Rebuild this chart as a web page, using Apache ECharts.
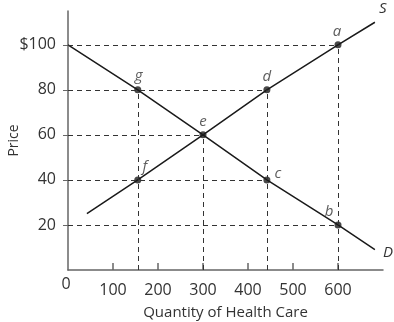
<!DOCTYPE html>
<html>
<head>
<meta charset="utf-8">
<script src="https://cdn.jsdelivr.net/npm/echarts@6/dist/echarts.min.js"></script>
<style>
  html, body { margin: 0; padding: 0; background: #fff; }
  #chart { width: 394px; height: 322px; }
</style>
</head>
<body>
<div id="chart"></div>
<script>
// Supply and demand for health care
const supplyCurve = [[42, 25], [155, 40], [300, 60], [442, 80], [600, 100], [682, 110]];
const demandCurve = [[0, 100], [155, 80], [300, 60], [442, 40], [600, 20], [682, 9]];

const pointNames = ['a', 'b', 'c', 'd', 'e', 'f', 'g'];
const pointQty   = [600, 600, 442, 442, 300, 155, 155];
const pointPrice = [100, 20, 40, 80, 60, 40, 80];

const xTicks = [100, 200, 300, 400, 500, 600];
const yTicks = [20, 40, 60, 80, 100];

const textColor = '#333';
const font = '"Open Sans", "DejaVu Sans", sans-serif';

// label placement for each lettered point
const labelPlace = {
  a: { position: 'top', offset: [-1, 0] },
  b: { position: 'top', offset: [-9, 0] },
  c: { position: 'right', offset: [2, -6] },
  d: { position: 'top', offset: [0, 0] },
  e: { position: 'top', offset: [0, 0] },
  f: { position: 'top', offset: [7, 0] },
  g: { position: 'top', offset: [1, -1] }
};

const points = pointNames.map((n, i) => ({
  name: n,
  value: [pointQty[i], pointPrice[i]],
  label: Object.assign({ show: true, formatter: n }, labelPlace[n])
}));

// dashed guides from each point to both axes
const guides = [];
pointNames.forEach((n, i) => {
  guides.push([{ coord: [0, pointPrice[i]] }, { coord: [pointQty[i], pointPrice[i]] }]);
  guides.push([{ coord: [pointQty[i], 0] }, { coord: [pointQty[i], pointPrice[i]] }]);
});

const chart = echarts.init(document.getElementById('chart'));
chart.setOption({
  animation: false,
  grid: { left: 68, right: 11, top: 11, bottom: 52, outerBoundsMode: 'none', containLabel: false },
  xAxis: {
    type: 'value', min: 0, max: 700, interval: 100,
    name: 'Quantity of Health Care', nameLocation: 'middle', nameGap: 35, nameMoveOverlap: false,
    nameTextStyle: { color: textColor, fontSize: 15, fontFamily: font },
    splitLine: { show: false },
    axisLine: { lineStyle: { color: '#666', width: 1.5 } },
    axisTick: { show: true, inside: true, length: 7, customValues: xTicks, lineStyle: { color: '#666', width: 1.5 } },
    axisLabel: { customValues: xTicks, color: textColor, fontSize: 16, fontFamily: font, margin: 12 }
  },
  yAxis: {
    type: 'value', min: 0, max: 115, interval: 20,
    name: 'Price', nameLocation: 'middle', nameGap: 47, nameRotate: 90, nameMoveOverlap: false,
    nameTextStyle: { color: textColor, fontSize: 14, fontFamily: font },
    splitLine: { show: false },
    axisLine: { show: true, lineStyle: { color: '#666', width: 1.5 } },
    axisTick: { show: true, length: 5, customValues: yTicks, lineStyle: { color: '#666', width: 1 } },
    axisLabel: {
      customValues: yTicks, color: textColor, fontSize: 16, fontFamily: font, margin: 12,
      formatter: v => (v === 100 ? '$' + v : String(v))
    }
  },
  graphic: [],
  series: [
    {
      type: 'line', data: supplyCurve, symbol: 'none', z: 3,
      lineStyle: { color: '#1a1a1a', width: 1.5 },
      endLabel: { show: true, formatter: 'S', fontStyle: 'italic', fontSize: 15, color: textColor, fontFamily: font, offset: [-4, -14] }
    },
    {
      type: 'line', data: demandCurve, symbol: 'none', z: 3,
      lineStyle: { color: '#1a1a1a', width: 1.5 },
      endLabel: { show: true, formatter: 'D', fontStyle: 'italic', fontSize: 15, color: textColor, fontFamily: font, offset: [0, 3] }
    },
    {
      type: 'scatter', data: points, symbolSize: 7, z: 4,
      itemStyle: { color: '#1a1a1a' },
      label: { fontStyle: 'italic', fontSize: 15, color: textColor, fontFamily: font, distance: 2 },
      markLine: {
        silent: true, symbol: 'none', animation: false,
        label: { show: false },
        lineStyle: { color: '#333', width: 1, type: [5, 4] },
        data: guides
      }
    }
  ]
});

// origin label sits a little above the quantity labels
const origin = chart.convertToPixel({ gridIndex: 0 }, [0, 0]);
chart.setOption({
  graphic: [{
    type: 'text', x: origin[0] - 2, y: origin[1] + 14,
    style: { text: '0', fill: textColor, fontSize: 16, fontFamily: font, align: 'center', verticalAlign: 'middle' }
  }]
});
</script>
</body>
</html>
